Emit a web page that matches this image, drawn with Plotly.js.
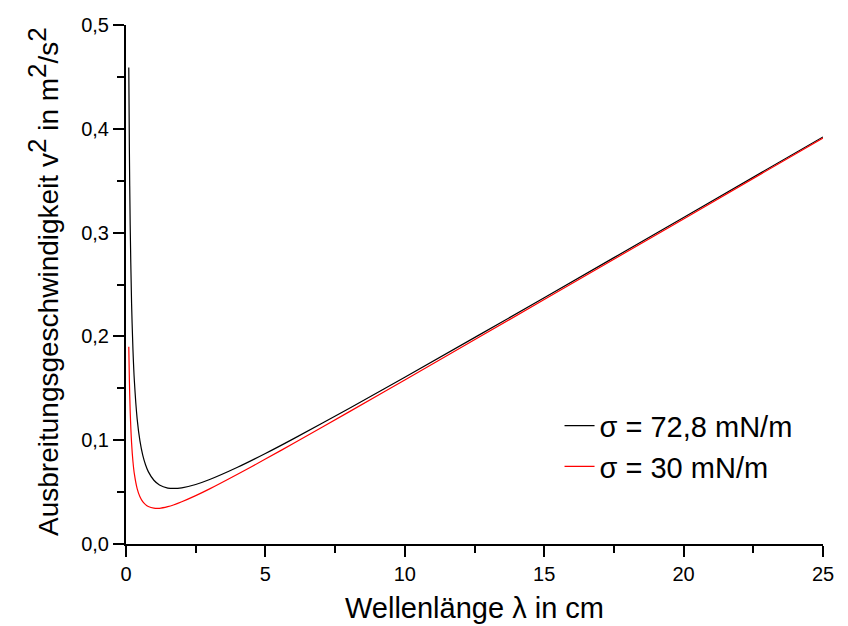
<!DOCTYPE html>
<html>
<head>
<meta charset="utf-8">
<script src="https://cdn.plot.ly/plotly-3.0.1.min.js"></script>
<style>html,body{margin:0;padding:0;background:#fff;}#chart{width:848px;height:626px;}</style>
</head>
<body>
<div id="chart"></div>
<script>
// wavelength in cm
var lambdaCm = [0.1, 0.12, 0.15, 0.2, 0.25, 0.3, 0.4, 0.5, 0.6, 0.7, 0.8, 1.0, 1.2, 1.5, 1.7, 2.0, 2.5, 3, 4, 5, 6, 8, 10, 15, 20, 25];
// v^2 in m^2/s^2, sigma = 72.8 mN/m
var v2Water = [0.4590, 0.3831, 0.3073, 0.2318, 0.1869, 0.1572, 0.1206, 0.0993, 0.0856, 0.0763, 0.0697, 0.0614, 0.0569, 0.0539, 0.0535, 0.0541, 0.0573, 0.0621, 0.0739, 0.0872, 0.1013, 0.1306, 0.1607, 0.2372, 0.3146, 0.3922];
// v^2 in m^2/s^2, sigma = 30 mN/m
var v2Low = [0.1901, 0.1590, 0.1280, 0.0974, 0.0793, 0.0675, 0.0534, 0.0455, 0.0408, 0.0379, 0.0361, 0.0345, 0.0344, 0.0360, 0.0376, 0.0407, 0.0466, 0.0531, 0.0672, 0.0818, 0.0968, 0.1273, 0.1580, 0.2355, 0.3132, 0.3911];
var seriesNames = ['\u03c3 = 72,8 mN/m', '\u03c3 = 30 mN/m'];
var xTicks = [0, 5, 10, 15, 20, 25];
var yTicks = [0.0, 0.1, 0.2, 0.3, 0.4, 0.5];

var font = 'Liberation Sans, Arial, sans-serif';
var traces = [
  {x: lambdaCm, y: v2Water, name: seriesNames[0], mode: 'lines', line: {color: '#000000', width: 1.2, shape: 'spline', smoothing: 0.8}},
  {x: lambdaCm, y: v2Low, name: seriesNames[1], mode: 'lines', line: {color: '#ff0000', width: 1.2, shape: 'spline', smoothing: 0.8}}
];
var axisCommon = {
  showgrid: false, zeroline: false, showline: true, linecolor: '#000', linewidth: 2,
  ticks: 'outside', ticklen: 11, tickwidth: 2, tickcolor: '#000',
  tickfont: {family: font, size: 20, color: '#000'}
};
var sup2 = '<sup><span style="font-size:26px">2</span></sup>';
var layout = {
  width: 848, height: 626,
  margin: {l: 126, r: 25, t: 25, b: 82},
  paper_bgcolor: '#fff', plot_bgcolor: '#fff',
  separators: ',.',
  showlegend: true,
  legend: {x: 0.622, y: 0.277, xanchor: 'left', yanchor: 'top', bgcolor: 'rgba(0,0,0,0)',
           font: {family: font, size: 29, color: '#000'}, tracegroupgap: 0},
  xaxis: Object.assign({}, axisCommon, {
    range: [0, 25], tickvals: xTicks, ticktext: xTicks.map(String),
    minor: {tickvals: [2.5, 7.5, 12.5, 17.5, 22.5], ticks: 'outside', ticklen: 7, tickwidth: 2, tickcolor: '#000'},
    title: {text: 'Wellenlänge \u03bb in cm', font: {family: font, size: 29, color: '#000'}, standoff: 14}
  }),
  yaxis: Object.assign({}, axisCommon, {
    range: [0, 0.5], tickvals: yTicks, tickformat: '.1f',
    minor: {tickvals: [0.05, 0.15, 0.25, 0.35, 0.45], ticks: 'outside', ticklen: 7, tickwidth: 2, tickcolor: '#000'}
  }),
  annotations: [{
    text: 'Ausbreitungsgeschwindigkeit v' + sup2 + ' in m' + sup2 + '/s' + sup2,
    xref: 'paper', yref: 'paper', x: -0.119, y: 0.505, xanchor: 'center', yanchor: 'middle',
    textangle: -90, showarrow: false, font: {family: font, size: 28, color: '#000'}
  }]
};
Plotly.newPlot('chart', traces, layout, {displayModeBar: false, staticPlot: true});
</script>
</body>
</html>
